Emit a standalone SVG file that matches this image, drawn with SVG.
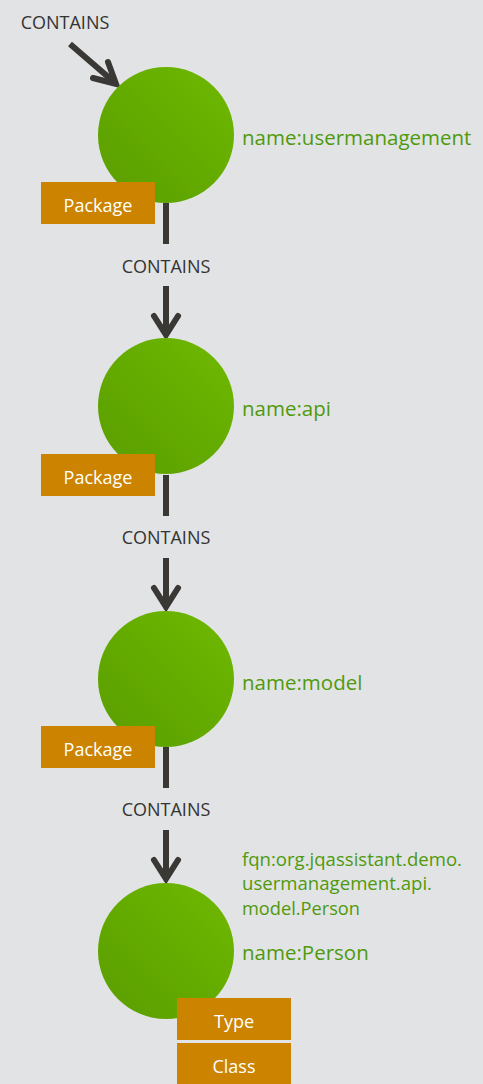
<svg xmlns="http://www.w3.org/2000/svg" width="483" height="1084" viewBox="0 0 483 1084">
  <defs>
    <linearGradient id="nodeFill" x1="1" y1="0" x2="0" y2="1">
      <stop offset="0" stop-color="#6fb900"/>
      <stop offset="1" stop-color="#599d00"/>
    </linearGradient>
    <style>
      .bg { fill: #e2e3e5; }
      .node { fill: url(#nodeFill); }
      .tag { fill: #cc8400; }
      .tagText { font-family: "Open Sans", "Liberation Sans", sans-serif; font-size: 18px; fill: #ffffff; text-anchor: middle; }
      .prop { font-family: "Open Sans", "Liberation Sans", sans-serif; font-size: 20.5px; fill: #4f9a0c; }
      .fqn { font-size: 17.5px; }
      .rel { font-family: "Open Sans", "Liberation Sans", sans-serif; font-size: 18px; fill: #333333; text-anchor: middle; }
      .edge { stroke: #3a3835; stroke-width: 6; fill: none; stroke-linecap: butt; }
      .head { stroke: #3a3835; stroke-width: 6; fill: none; stroke-linecap: round; stroke-linejoin: miter; }
    </style>
  </defs>

  <rect class="bg" x="0" y="0" width="483" height="1084"/>

  <g id="connectors">
    <!-- incoming relationship to the root package -->
    <g id="edge-in">
      <text class="rel" x="65" y="29">CONTAINS</text>
      <line class="edge" x1="70" y1="44" x2="114" y2="82"/>
      <polyline class="head" points="108,62 116,84 93,78"/>
    </g>
    <g id="edge-1">
      <line class="edge" x1="166" y1="203" x2="166" y2="244"/>
      <text class="rel" x="166" y="273">CONTAINS</text>
      <line class="edge" x1="166" y1="286" x2="166" y2="334"/>
      <polyline class="head" points="154,316 166,335 178,316"/>
    </g>
    <g id="edge-2">
      <line class="edge" x1="166" y1="475" x2="166" y2="516"/>
      <text class="rel" x="166" y="544">CONTAINS</text>
      <line class="edge" x1="166" y1="558" x2="166" y2="606"/>
      <polyline class="head" points="154,588 166,607 178,588"/>
    </g>
    <g id="edge-3">
      <line class="edge" x1="166" y1="747" x2="166" y2="788"/>
      <text class="rel" x="166" y="816">CONTAINS</text>
      <line class="edge" x1="166" y1="830" x2="166" y2="878"/>
      <polyline class="head" points="154,860 166,879 178,860"/>
    </g>
  </g>

  <g id="node-usermanagement">
    <circle class="node" cx="166" cy="135" r="68"/>
    <rect class="tag" x="41" y="182" width="114" height="42"/>
    <text class="tagText" x="98" y="212">Package</text>
    <text class="prop" x="242" y="145">name:usermanagement</text>
  </g>

  <g id="node-api">
    <circle class="node" cx="166" cy="406" r="68"/>
    <rect class="tag" x="41" y="454" width="114" height="42"/>
    <text class="tagText" x="98" y="484">Package</text>
    <text class="prop" x="242" y="416">name:api</text>
  </g>

  <g id="node-model">
    <circle class="node" cx="166" cy="679" r="68"/>
    <rect class="tag" x="41" y="726" width="114" height="42"/>
    <text class="tagText" x="98" y="756">Package</text>
    <text class="prop" x="242" y="690">name:model</text>
  </g>

  <g id="node-person">
    <circle class="node" cx="166" cy="951" r="68"/>
    <rect class="tag" x="177" y="998" width="114" height="42"/>
    <text class="tagText" x="234" y="1028">Type</text>
    <rect class="tag" x="177" y="1043" width="114" height="42"/>
    <text class="tagText" x="234" y="1073">Class</text>
    <text class="prop fqn" x="242" y="866" textLength="220" lengthAdjust="spacingAndGlyphs">fqn:org.jqassistant.demo.</text>
    <text class="prop fqn" x="242" y="890" textLength="190" lengthAdjust="spacingAndGlyphs">usermanagement.api.</text>
    <text class="prop fqn" x="242" y="915" textLength="118" lengthAdjust="spacingAndGlyphs">model.Person</text>
    <text class="prop" x="242" y="960">name:Person</text>
  </g>
</svg>
